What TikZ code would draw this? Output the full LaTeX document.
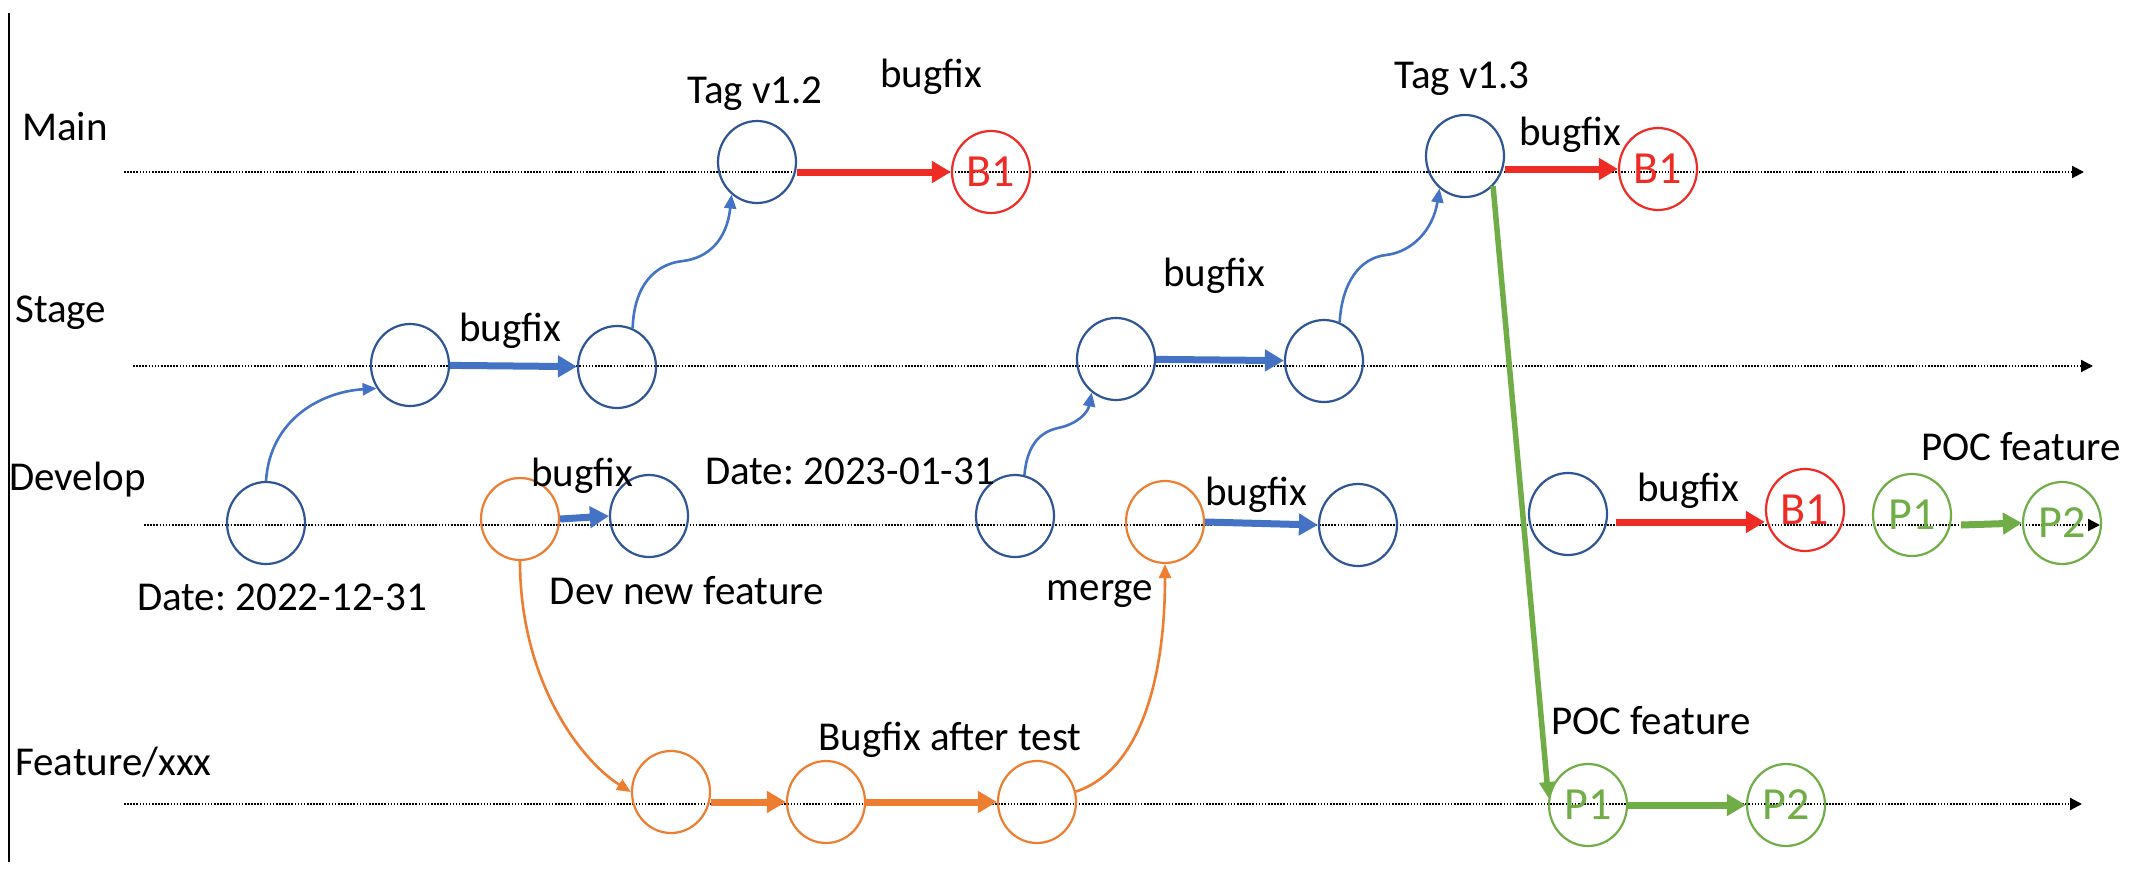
\documentclass[tikz,border=0pt]{standalone}
\usepackage{fontspec}
\setmainfont{Carlito}
\usetikzlibrary{arrows.meta,shapes.geometric}
\definecolor{cblue}{HTML}{2F5597}
\definecolor{lblue}{HTML}{4472C4}
\definecolor{cred}{HTML}{EE2B24}
\definecolor{corange}{HTML}{ED7D31}
\definecolor{cgreen}{HTML}{70AD47}
\frenchspacing
\begin{document}
\begin{tikzpicture}[x=1pt,y=-1pt,
  commit/.style={ellipse, draw, line width=2.2pt, minimum width=78pt, minimum height=82pt, inner sep=0pt, font=\fontsize{46}{50}\selectfont},
  bluec/.style={commit, draw=cblue},
  orangec/.style={commit, draw=corange},
  redc/.style={commit, draw=cred, text=cred},
  greenc/.style={commit, draw=cgreen, text=cgreen},
  lane/.style={line width=2.1pt, dash pattern=on 1.6pt off 1.5pt, -{Triangle[length=12pt,width=12pt]}},
  lbl/.style={font=\fontsize{41}{46}\selectfont, inner sep=0pt, anchor=base},
  lanelbl/.style={lbl, anchor=base west},
  thickarr/.style={line width=7pt, -{Triangle[length=19pt,width=21pt]}},
  thinarr/.style={line width=2.6pt, -{Triangle[length=14pt,width=12pt]}},
]
\useasboundingbox (0,0) rectangle (2154,880);
\fill[white] (0,0) rectangle (2154,880);
% left border
\coordinate (bt) at (9,13);
\coordinate (bb) at (9,862);
\draw[line width=1.8pt] (bt) -- (bb);
% lanes
\coordinate (mainA) at (124,172); \coordinate (mainB) at (2084,172);
\coordinate (stageA) at (133,366); \coordinate (stageB) at (2093,366);
\coordinate (devA) at (144,525); \coordinate (devB) at (2100,525);
\coordinate (featA) at (124,804); \coordinate (featB) at (2082,804);
\draw[lane] (mainA) -- (mainB);
\draw[lane] (stageA) -- (stageB);
\draw[lane] (devA) -- (devB);
\draw[lane] (featA) -- (featB);
% lane labels
\node[lanelbl] (lmain) at (22,140) {Main};
\node[lanelbl] (lstage) at (15,322) {Stage};
\node[lanelbl] (ldev) at (9,490) {Develop};
\node[lanelbl] (lfeat) at (15,775) {Feature/xxx};
% commits: main
\node[bluec] (m1) at (757,162) {};
\node[redc] (mb1) at (991,172) {B1};
\node[bluec] (m2) at (1465,156) {};
\node[redc] (mb2) at (1658,169) {B1};
% stage
\node[bluec] (s1) at (410,365) {};
\node[bluec] (s2) at (617,367) {};
\node[bluec] (s3) at (1116,359) {};
\node[bluec] (s4) at (1324,361) {};
% develop
\node[bluec] (d1) at (266,523) {};
\node[orangec] (do) at (520,519) {};
\node[bluec] (d2) at (649,516) {};
\node[bluec] (d3) at (1015,516) {};
\node[orangec] (dom) at (1165,522) {};
\node[bluec] (d4) at (1358,525) {};
\node[bluec] (d5) at (1568,514) {};
\node[redc] (db) at (1805,510) {B1};
\node[greenc] (dp1) at (1912,515) {P1};
\node[greenc] (dp2) at (2062,523) {P2};
% feature
\node[orangec] (f1) at (671,792) {};
\node[orangec] (f2) at (826,802) {};
\node[orangec] (f3) at (1037,802) {};
\node[greenc] (fp1) at (1588,805) {P1};
\node[greenc] (fp2) at (1786,805) {P2};
% thick arrows
\draw[thickarr, lblue] (s1) -- (s2);
\draw[thickarr, lblue] (s3) -- (s4);
\draw[thickarr, lblue] (do.east) -- (d2.west);
\draw[thickarr, lblue] (dom.east) -- (d4.west);
\draw[thickarr, cred] (m1.east |- mb1.west) -- (mb1.west);
\draw[thickarr, cred] (m2.east |- mb2.west) -- (mb2.west);
\draw[thickarr, cred] ([xshift=8pt,yshift=-8pt]d5.east) -- ([yshift=-12pt]db.west);
\draw[thickarr, cgreen] ([xshift=9pt,yshift=-10pt]dp1.east) -- (dp2.west);
\draw[thickarr, corange] (f1.east |- f2.west) -- (f2.west);
\draw[thickarr, corange] (f2) -- (f3);
\draw[thickarr, cgreen] (fp1) -- (fp2);
\draw[line width=5.5pt, cgreen, -{Triangle[length=16pt,width=15pt]}] (m2.-47) -- (fp1.170);
% thin curved arrows
\draw[thinarr, lblue] (d1.north) .. controls (270,420) and (320,392) .. (s1.215);
\draw[thinarr, lblue] (s2.68) .. controls (634,285) and (655,264) .. (683,261) .. controls (708,258) and (727,240) .. (m1.-128);
\draw[thinarr, lblue] (s4.68) .. controls (1342,282) and (1360,258) .. (1386,255) .. controls (1412,252) and (1433,230) .. (m2.-128);
\draw[thinarr, lblue] (d3.77) .. controls (1027,445) and (1040,432) .. (1058,428) .. controls (1078,424) and (1088,412) .. (s3.-126);
\draw[thinarr, corange] (do.south) .. controls (520,680) and (580,760) .. (f1.west);
\draw[thinarr, corange] (f3.15) .. controls (1140,770) and (1165,680) .. (dom.south);
% text labels
\node[lbl] (t12) at (755,104) {Tag v1.2};
\node[lbl] (bm1) at (931,88) {bugfix};
\node[lbl] (t13) at (1462,89) {Tag v1.3};
\node[lbl] (bm2) at (1570,146) {bugfix};
\node[lbl] (bs1) at (510,341) {bugfix};
\node[lbl] (bs2) at (1214,286) {bugfix};
\node[lbl] (bd1) at (582,486) {bugfix};
\node[lbl] (date1) at (282,610) {Date: 2022-12-31};
\node[lbl] (devnf) at (687,604) {Dev new feature};
\node[lbl] (date2) at (850,484) {Date: 2023-01-31};
\node[lbl] (bd2) at (1256,505) {bugfix};
\node[lbl] (mrg) at (1100,600) {merge};
\node[lbl] (bd3) at (1688,501) {bugfix};
\node[lbl] (poc1) at (2021,460) {POC feature};
\node[lbl] (bat) at (950,750) {Bugfix after test};
\node[lbl] (poc2) at (1651,734) {POC feature};
\end{tikzpicture}
\end{document}
